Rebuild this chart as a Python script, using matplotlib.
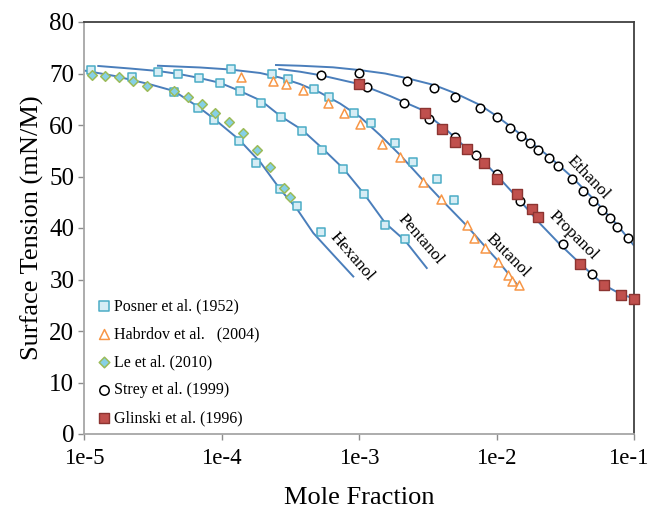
import matplotlib
matplotlib.use('Agg')
import matplotlib.pyplot as plt
from matplotlib.transforms import ScaledTranslation

plt.rcParams['font.family'] = ['Liberation Serif', 'DejaVu Serif']

# fitted curves
hex_x = [1.02e-5, 1.68e-5, 3.02e-5, 4.51e-5, 6.71e-5, 8.86e-5, 1.34e-4, 1.91e-4, 2.66e-4,
         3.54e-4, 4.65e-4, 6.47e-4, 9.09e-4]
hex_y = [70.54, 69.51, 67.90, 66.60, 63.59, 61.17, 57.18, 52.82, 47.57, 43.69, 39.03, 34.85, 30.58]

pen_x = [1.27e-5, 2.16e-5, 3.44e-5, 4.91e-5, 6.90e-5, 9.75e-5, 1.35e-4, 1.94e-4, 2.71e-4,
         3.87e-4, 5.41e-4, 7.69e-4, 1.09e-3, 1.55e-3, 2.16e-3, 3.11e-3]
pen_y = [71.46, 70.97, 70.49, 69.90, 69.13, 68.19, 66.64, 64.72, 61.65, 59.03, 55.48, 51.55,
         46.60, 40.97, 37.57, 32.23]

but_x = [3.45e-5, 6.98e-5, 1.15e-4, 1.91e-4, 2.66e-4, 3.72e-4, 5.20e-4, 7.28e-4, 1.02e-3,
         1.42e-3, 1.99e-3, 2.87e-3, 3.95e-3, 6.07e-3, 8.25e-3, 1.02e-2, 1.46e-2]
but_y = [71.51, 71.17, 70.78, 70.10, 69.22, 67.96, 66.31, 64.17, 61.55, 58.06, 54.17, 49.51,
         45.57, 40.45, 36.41, 33.69, 28.54]

pro_x = [2.63e-4, 3.72e-4, 5.29e-4, 1.00e-3, 1.68e-3, 2.78e-3, 4.34e-3, 6.07e-3, 7.59e-3,
         1.00e-2, 1.48e-2, 2.07e-2, 2.90e-2, 4.05e-2, 6.05e-2, 8.05e-2, 1.00e-1]
pro_y = [70.87, 70.35, 69.65, 67.96, 65.63, 63.11, 59.03, 55.44, 53.59, 50.29, 45.34, 40.87,
         36.80, 33.11, 28.93, 27.13, 26.31]

eth_x = [2.49e-4, 3.72e-4, 6.47e-4, 1.00e-3, 1.55e-3, 2.25e-3, 3.51e-3, 5.02e-3, 7.59e-3,
         1.00e-2, 1.25e-2, 1.75e-2, 2.42e-2, 3.52e-2, 5.01e-2, 7.56e-2, 9.92e-2]
eth_y = [71.65, 71.51, 71.20, 70.68, 70.00, 69.07, 67.77, 66.16, 63.88, 61.75, 59.81, 56.76,
         53.84, 49.96, 45.77, 40.58, 36.70]

# experimental data
posner_x = [1.12e-5, 2.25e-5, 4.54e-5, 6.71e-5, 8.86e-5, 1.35e-4, 1.77e-4, 2.66e-4, 3.56e-4, 5.29e-4,
            3.44e-5, 4.85e-5, 6.86e-5, 9.75e-5, 1.36e-4, 1.94e-4, 2.71e-4, 3.87e-4, 5.41e-4,
            7.69e-4, 1.09e-3, 1.55e-3, 2.17e-3,
            1.17e-4, 2.34e-4, 3.06e-4, 4.73e-4, 6.08e-4, 9.24e-4, 1.22e-3, 1.84e-3, 2.45e-3,
            3.69e-3, 4.87e-3]
posner_y = [70.68, 69.38, 66.35, 63.24, 60.97, 56.95, 52.68, 47.57, 44.27, 39.28,
            70.23, 69.90, 69.07, 68.16, 66.54, 64.21, 61.50, 58.83, 55.15,
            51.46, 46.54, 40.58, 37.86,
            70.87, 69.90, 68.93, 66.93, 65.50, 62.39, 60.39, 56.50, 52.78,
            49.61, 45.44]

habr_x = [1.39e-4, 2.35e-4, 2.93e-4, 3.94e-4, 6.00e-4, 7.82e-4, 1.01e-3, 1.47e-3, 2.00e-3,
          2.90e-3, 3.97e-3, 6.07e-3, 6.86e-3, 8.25e-3, 1.02e-2, 1.21e-2, 1.30e-2, 1.45e-2]
habr_y = [69.26, 68.58, 67.90, 66.70, 64.21, 62.35, 60.25, 56.31, 53.69,
          48.99, 45.57, 40.49, 38.06, 36.21, 33.46, 30.87, 29.71, 28.87]

le_x = [1.14e-5, 1.42e-5, 1.80e-5, 2.28e-5, 2.86e-5, 4.54e-5, 5.68e-5, 7.18e-5, 9.02e-5,
        1.14e-4, 1.44e-4, 1.81e-4, 2.26e-4, 2.85e-4, 3.15e-4]
le_y = [69.71, 69.51, 69.26, 68.60, 67.63, 66.66, 65.50, 64.08, 62.33,
        60.64, 58.35, 55.15, 51.90, 47.83, 45.96]

strey_x = [5.29e-4, 9.97e-4, 1.14e-3, 2.25e-3, 2.13e-3, 3.51e-3, 3.25e-3, 5.01e-3, 4.99e-3,
           7.59e-3, 7.13e-3, 1.00e-2, 1.01e-2, 1.25e-2, 1.51e-2, 1.48e-2, 1.75e-2, 2.01e-2,
           2.42e-2, 2.79e-2, 3.03e-2, 3.52e-2, 4.28e-2, 5.02e-2, 4.99e-2, 5.82e-2, 6.69e-2,
           7.56e-2, 9.09e-2, 1.00e-1]
strey_y = [69.71, 70.19, 67.38, 68.60, 64.21, 67.13, 61.11, 65.50, 57.61,
           63.24, 54.17, 61.46, 50.49, 59.51, 57.92, 45.30, 56.45, 55.24,
           53.53, 52.04, 36.85, 49.42, 47.18, 45.30, 31.07, 43.50, 41.88,
           40.25, 38.00, 26.31]

glin_x = [1.00e-3, 3.02e-3, 4.04e-3, 5.03e-3, 6.07e-3, 8.11e-3, 1.01e-2, 1.41e-2, 1.82e-2,
          2.01e-2, 4.05e-2, 6.05e-2, 8.05e-2, 1.00e-1]
glin_y = [67.96, 62.39, 59.22, 56.76, 55.34, 52.56, 49.46, 46.60, 43.73,
          42.23, 33.01, 28.89, 27.05, 26.31]

curve_names = ['Hexanol', 'Pentanol', 'Butanol', 'Propanol', 'Ethanol']
x_ticks = [1e-5, 1e-4, 1e-3, 1e-2, 1e-1]
x_tick_labels = ['1e-5', '1e-4', '1e-3', '1e-2', '1e-1']

fig = plt.figure(figsize=(6.51, 5.09), dpi=100)
ax = fig.add_axes([84 / 651, 75 / 509, 550 / 651, 412 / 509])

line_col = '#4a7ebb'
for cx, cy in [(hex_x, hex_y), (pen_x, pen_y), (but_x, but_y), (pro_x, pro_y), (eth_x, eth_y)]:
    ax.plot(cx, cy, color=line_col, lw=1.4, zorder=2)

ax.scatter(posner_x, posner_y, marker='s', s=40, facecolor='#d6edf5', edgecolor='#4bacc6',
           lw=1.1, zorder=3, clip_on=False, label='Posner et al. (1952)')
ax.scatter(habr_x, habr_y, marker='^', s=42, facecolor='white', edgecolor='#f79646',
           lw=1.1, zorder=3, clip_on=False, label='Habrdov et al.   (2004)')
ax.scatter(le_x, le_y, marker='D', s=24, facecolor='#86d0e6', edgecolor='#9bbb59',
           lw=1.1, zorder=3, clip_on=False, label='Le et al. (2010)')
ax.scatter(strey_x, strey_y, marker='o', s=38, facecolor='white', edgecolor='black',
           lw=1.1, zorder=3, clip_on=False, label='Strey et al. (1999)')
ax.scatter(glin_x, glin_y, marker='s', s=44, facecolor='#c0504d', edgecolor='#8c3431',
           lw=1.0, zorder=4, clip_on=False, label='Glinski et al. (1996)')

# curve labels
label_pos = [(8.85e-4, 34.4, -49), (2.81e-3, 37.8, -49), (1.20e-2, 34.6, -45),
             (3.62e-2, 38.6, -45), (4.65e-2, 49.8, -46)]
for name, (tx, ty, rot) in zip(curve_names, label_pos):
    ax.text(tx, ty, name, rotation=rot, rotation_mode='anchor', ha='center', va='center',
            fontsize=12.5)

ax.set_xscale('log')
ax.set_xlim(1e-5, 1e-1)
ax.set_ylim(0, 80)
ax.set_xticks(x_ticks)
ax.set_xticklabels(x_tick_labels)
ax.minorticks_off()
ax.set_yticks(range(0, 81, 10))
ax.tick_params(labelsize=18, length=4, width=1, color='#8c8c8c', direction='out')
ax.tick_params(axis='x', labelsize=16.5, pad=6)
ax.tick_params(axis='y', pad=3)

# nudge the last x label so it stays inside the figure
last = ax.get_xticklabels()[-1]
last.set_transform(last.get_transform() + ScaledTranslation(-4 / 72, 0, fig.dpi_scale_trans))

for side in ['left', 'bottom']:
    ax.spines[side].set_color('#a6a6a6')
    ax.spines[side].set_linewidth(1.3)
for side in ['top', 'right']:
    ax.spines[side].set_color('#404040')
    ax.spines[side].set_linewidth(1.3)

ax.set_xlabel('Mole Fraction', fontsize=19, labelpad=13)
ax.set_ylabel('Surface Tension (mN/M)', fontsize=19, labelpad=4)

ax.legend(loc='upper left', bbox_to_anchor=(0.024, 0.33), frameon=False, fontsize=11.5,
          handlelength=0.8, handletextpad=0.25, labelspacing=0.76, borderpad=0,
          borderaxespad=0, markerscale=1.1)

plt.savefig('out.png', dpi=100)
